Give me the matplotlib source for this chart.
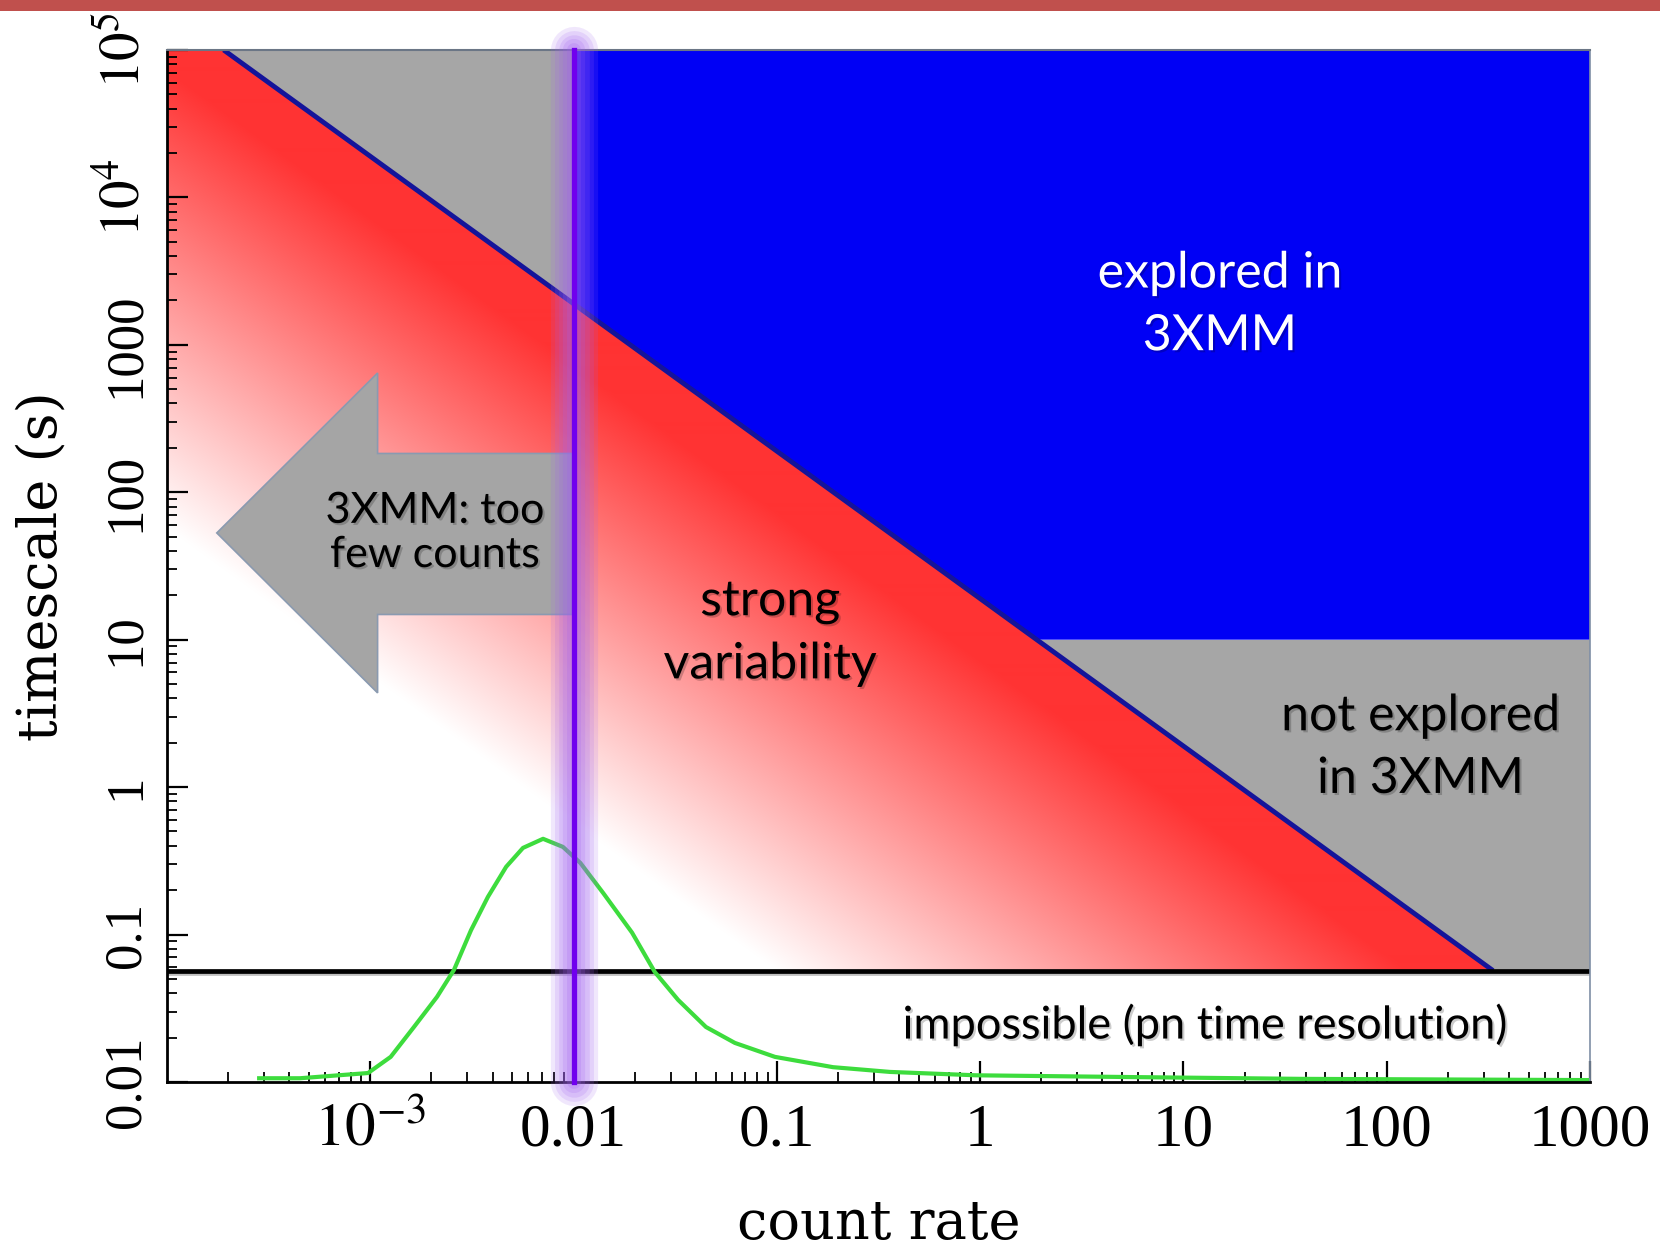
import numpy as np
import matplotlib.pyplot as plt
import matplotlib.patheffects as pe
from matplotlib.patches import Polygon, Rectangle
from matplotlib.transforms import blended_transform_factory

plt.rcParams['mathtext.fontset'] = 'stix'

# --- values ---

rate_min, rate_max = 1e-4, 1e3       # count rate axis
time_min, time_max = 1e-2, 1e5       # timescale axis (s)
min_counts = 19.0                    # timescale * count rate on the diagonal
pn_time_res = 0.057                  # s, black line (pn time resolution)
explored_time = 10.0                 # s, lower edge of the blue region
rate_cut = 0.01                      # purple line

x_ticks = [1e-3, 1e-2, 1e-1, 1, 10, 100, 1000]
x_ticklabels = [r'$10^{-3}$', '0.01', '0.1', '1', '10', '100', '1000']
y_ticks = [1e-2, 1e-1, 1, 10, 100, 1000, 1e4, 1e5]
y_ticklabels = ['0.01', '0.1', '1', '10', '100', '1000', r'$10^4$', r'$10^5$']

# green distribution of source count rates
green_rate = [2.84e-4, 4.51e-4, 9.75e-4, 1.26e-3, 1.64e-3, 2.13e-3, 2.58e-3,
              3.13e-3, 3.79e-3, 4.66e-3, 5.64e-3, 7.08e-3, 8.87e-3, 1.08e-2,
              1.40e-2, 1.94e-2, 2.51e-2, 3.27e-2, 4.48e-2, 6.22e-2, 9.79e-2,
              0.189, 0.360, 0.953, 5.46, 37.4, 977]
green_time = [0.0106, 0.0106, 0.0115, 0.0148, 0.0236, 0.0378, 0.0575,
              0.107, 0.180, 0.288, 0.387, 0.446, 0.393, 0.306,
              0.191, 0.103, 0.0557, 0.036, 0.0236, 0.0184, 0.0148,
              0.0126, 0.0117, 0.0111, 0.0108, 0.0105, 0.0103]

# --- figure ---

FW, FH = 1660, 1252
ax_pos = [0.1006, 0.1358, 0.8572, 0.8243]
fig = plt.figure(figsize=(FW / 100, FH / 100), dpi=100)
ax = fig.add_axes(ax_pos)
ax.set_xscale('log')
ax.set_yscale('log')
ax.set_xlim(rate_min, rate_max)
ax.set_ylim(time_min, time_max)
ax.set_autoscale_on(False)

gray = '#a6a6a6'
blue = '#0000f5'

rate_top = min_counts / time_max
rate_expl = min_counts / explored_time
rate_res = min_counts / pn_time_res
time_cut = min_counts / rate_cut

# gray: too few counts (upper left)
ax.add_patch(Polygon([(rate_top, time_max), (rate_cut, time_max), (rate_cut, time_cut)],
                     closed=True, facecolor=gray, edgecolor='none', zorder=1))
# blue: explored in 3XMM
ax.add_patch(Polygon([(rate_cut, time_max), (rate_max, time_max), (rate_max, explored_time),
                      (rate_expl, explored_time), (rate_cut, time_cut)],
                     closed=True, facecolor=blue, edgecolor='none', zorder=1))
# gray: not explored (lower right)
ax.add_patch(Polygon([(rate_expl, explored_time), (rate_max, explored_time),
                      (rate_max, pn_time_res), (rate_res, pn_time_res)],
                     closed=True, facecolor=gray, edgecolor='none', zorder=1))

# red triangle, fading to white away from the diagonal (computed in axes pixels)
W = int(round(ax_pos[2] * FW))
H = int(round(ax_pos[3] * FH))
lx0, lx1 = np.log10(rate_min), np.log10(rate_max)
ly0, ly1 = np.log10(time_min), np.log10(time_max)


def to_px(rate, time):
    return ((np.log10(rate) - lx0) / (lx1 - lx0) * W,
            (np.log10(time) - ly0) / (ly1 - ly0) * H)


x1, y1 = to_px(rate_top, time_max)
x2, y2 = to_px(rate_res, pn_time_res)
yy, xx = np.mgrid[0:H, 0:W]
px = xx + 0.5
py = H - yy - 0.5          # row 0 is the top of the axes
dx, dy = x2 - x1, y2 - y1
dist = np.abs(((px - x1) * dy - (py - y1) * dx) / np.hypot(dx, dy))
f = np.clip((420 - dist) / 370, 0, 1)
red = np.array([1.0, 0.2, 0.2])
img = (1 - f)[..., None] * np.ones(3) + f[..., None] * red
tri = Polygon([(rate_min, time_max), (rate_top, time_max), (rate_res, pn_time_res),
               (rate_min, pn_time_res)], closed=True, transform=ax.transData)
im = ax.imshow(img, extent=(0, 1, 0, 1), origin='upper', transform=ax.transAxes,
               aspect='auto', interpolation='bilinear', zorder=1.2)
im.set_clip_path(tri)

# diagonal and resolution line
ax.plot([rate_top, rate_res], [time_max, pn_time_res], color='#14149a', lw=3.5, zorder=3,
        solid_capstyle='butt')
ax.axhline(pn_time_res, color='black', lw=3.4, zorder=3,
           path_effects=[pe.SimpleLineShadow(offset=(0, -2), alpha=0.25), pe.Normal()])

# green curve
ax.plot(green_rate, green_time, color='#3ddc3d', lw=3, zorder=4, solid_joinstyle='round')

# arrow pointing to low count rates (axes fraction)
arrow = Polygon([(0.035, 0.532), (0.148, 0.687), (0.148, 0.609), (0.285, 0.609),
                 (0.285, 0.453), (0.148, 0.453), (0.148, 0.377)],
                closed=True, transform=ax.transAxes, facecolor='#a5a5a5',
                edgecolor='#8a9ab0', lw=1.2, zorder=4.5)
ax.add_patch(arrow)

# purple line with glow
tr = blended_transform_factory(ax.transData, ax.transAxes)
for w, a in [(34, 0.15), (28, 0.16), (22, 0.17), (16, 0.18), (10, 0.2)]:
    ax.plot([rate_cut, rate_cut], [0, 1], transform=tr, color='#a060f0', lw=w, alpha=a,
            solid_capstyle='round', clip_on=False, zorder=6)
ax.plot([rate_cut, rate_cut], [0, 1], transform=tr, color='#7000ee', lw=3.8,
        clip_on=False, zorder=7)

# labels inside the plot
shadow = [pe.SimplePatchShadow(offset=(1.5, -1.5), shadow_rgbFace='black', alpha=0.2), pe.Normal()]
tkw = dict(family='Lato', ha='center', va='center', transform=ax.transAxes,
           zorder=8, path_effects=shadow)
ax.text(0.740, 0.753, 'explored in\n3XMM', color='white', fontsize=36, linespacing=1.45, **tkw)
ax.text(0.881, 0.324, 'not explored\nin 3XMM', color='black', fontsize=36, linespacing=1.45, **tkw)
ax.text(0.424, 0.435, 'strong\nvariability', color='black', fontsize=36, linespacing=1.45, **tkw)
ax.text(0.188, 0.532, '3XMM: too\nfew counts', color='black', fontsize=31, linespacing=1.2, **tkw)
ax.text(0.729, 0.055, 'impossible (pn time resolution)', color='black', fontsize=32.5, **tkw)

# axes styling
ax.set_xticks(x_ticks)
ax.set_xticklabels(x_ticklabels)
ax.set_yticks(y_ticks)
ax.set_yticklabels(y_ticklabels)
ax.tick_params(which='both', direction='in', top=False, right=False, colors='black')
ax.tick_params(which='major', length=15, width=1.6)
ax.tick_params(which='minor', length=7, width=1.3)
ax.tick_params(axis='x', which='major', pad=46)
ax.tick_params(axis='y', which='major', pad=20)
for lab in ax.get_xticklabels():
    lab.set_family('Liberation Serif')
    lab.set_fontsize(44)
    lab.set_va('baseline')
for lab in ax.get_yticklabels():
    lab.set_family('Liberation Serif')
    lab.set_fontsize(41 if lab.get_text().startswith('$') else 38)
    lab.set_rotation(90)
    lab.set_rotation_mode('anchor')
    lab.set_ha('center')
    lab.set_va('baseline')

for side in ['left', 'bottom']:
    ax.spines[side].set_color('black')
    ax.spines[side].set_linewidth(2)
ax.spines['top'].set_color('#6b7686')
ax.spines['top'].set_linewidth(1.5)
ax.spines['right'].set_color('#7f8fa6')
ax.spines['right'].set_linewidth(1.2)
for s in ax.spines.values():
    s.set_zorder(5)

ax.set_xlabel('count rate', family='DejaVu Serif', fontsize=39)
ax.set_ylabel('timescale (s)', family='DejaVu Serif', fontsize=39)
ax.xaxis.label.set_va('center')
ax.yaxis.label.set_va('center')
ax.xaxis.set_label_coords(0.5, -0.138)
ax.yaxis.set_label_coords(-0.088, 0.5)

# red strip along the top of the slide
fig.patches.append(Rectangle((0, 1 - 11 / FH), 1, 11 / FH, transform=fig.transFigure,
                             facecolor='#c0504d', edgecolor='none', zorder=10))

fig.savefig('out.png', dpi=100)
